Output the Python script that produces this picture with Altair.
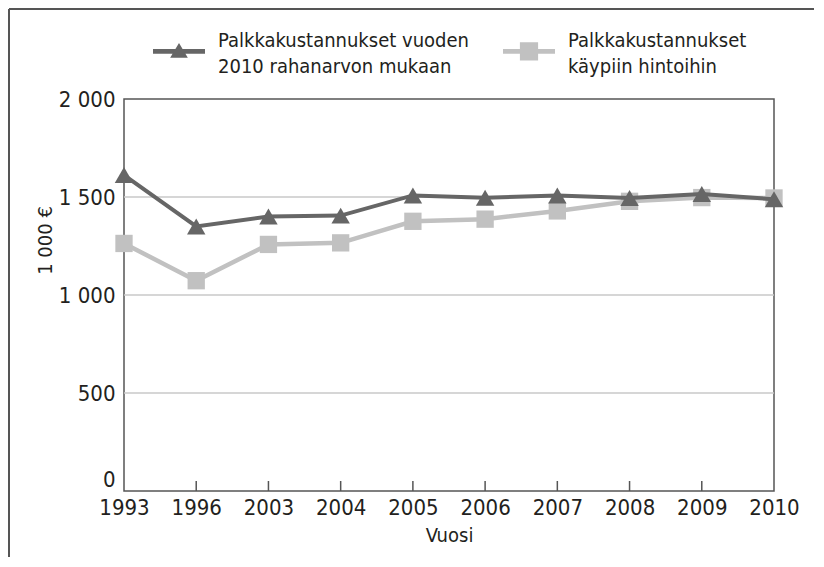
import altair as alt
import pandas as pd

# ---- data ----
years = ["1993", "1996", "2003", "2004", "2005", "2006", "2007", "2008", "2009", "2010"]
real_2010 = [1612, 1350, 1400, 1405, 1508, 1496, 1508, 1495, 1515, 1488]
nominal = [1263, 1073, 1258, 1266, 1376, 1387, 1429, 1478, 1497, 1495]
series_real = "Palkkakustannukset vuoden|2010 rahanarvon mukaan"
series_nominal = "Palkkakustannukset|käypiin hintoihin"
y_ticks = [0, 500, 1000, 1500, 2000]
grid_values = [500, 1000, 1500]

DARK = "#666666"
LIGHT = "#c1c1c1"
TEXT = "#231f20"
FRAME = "#555555"
FONT = "Liberation Sans Narrow, DejaVu Sans Condensed, sans-serif"

W, H = 650, 392
PAD = {"left": 116, "top": 91, "right": 40, "bottom": 66}

df_real = pd.DataFrame({"year": years, "value": real_2010, "series": series_real})
df_nom = pd.DataFrame({"year": years, "value": nominal, "series": series_nominal})
df_grid = pd.DataFrame({"v": grid_values})
df_ticks = pd.DataFrame({"year": years[1:-1]})

xscale = alt.Scale(type="point", padding=0, domain=years)
yscale = alt.Scale(domain=[0, 2000], nice=False, zero=True)

xaxis = alt.Axis(title="Vuosi", labelAngle=0, ticks=False, domain=False, grid=False,
                 labelPadding=6, labelFontSize=22, titleFontSize=20,
                 titleFontWeight="normal", titlePadding=7,
                 labelColor=TEXT, titleColor=TEXT, labelFont=FONT, titleFont=FONT)
yaxis = alt.Axis(title="1 000 €", values=y_ticks, grid=False, ticks=False, domain=False,
                 labelPadding=9, labelFontSize=22, titleFontSize=20,
                 titleFontWeight="normal", labelColor=TEXT, titleColor=TEXT,
                 labelFont=FONT, titleFont=FONT,
                 labelExpr="replace(format(datum.value, ','), ',', ' ')",
                 labelBaseline={"condition": {"test": "datum.value == 0", "value": "bottom"},
                                "value": "middle"},
                 titleX=-79, titleY=141, titleAngle=-90, titleBaseline="middle",
                 titleAlign="center")

X = alt.X("year:O", scale=xscale, axis=xaxis, sort=years)
Y = alt.Y("value:Q", scale=yscale, axis=yaxis)

grid = alt.Chart(df_grid).mark_rule(color="#c8c8c8", strokeWidth=1.5).encode(
    y=alt.Y("v:Q", scale=yscale, axis=yaxis)
)

sym_tri = ("M-1,0.31 L1,0.31 L1,0.49 L-1,0.49 Z "
           "M0,0.08 L0.34,0.64 L-0.34,0.64 Z")
sym_sq = ("M-1,0.31 L1,0.31 L1,0.49 L-1,0.49 Z "
          "M-0.35,0.05 L0.35,0.05 L0.35,0.75 L-0.35,0.75 Z")

def legend(sym, lx):
    return alt.Legend(title=None, orient="none", legendX=lx, legendY=-84,
                      symbolType=sym, symbolSize=2704, symbolStrokeWidth=0,
                      symbolOpacity=1, labelFont=FONT, labelFontSize=20,
                      labelColor=TEXT, labelOffset=13, labelLimit=400,
                      labelExpr="split(datum.label, '|')", labelBaseline="middle")

nom_line = alt.Chart(df_nom).mark_line(color=LIGHT, strokeWidth=4.5).encode(x=X, y=Y)
nom_pts = alt.Chart(df_nom).mark_point(filled=True, shape="square", size=300, opacity=1).encode(
    x=X, y=Y,
    color=alt.Color("series:N", scale=alt.Scale(domain=[series_nominal], range=[LIGHT]),
                    legend=legend(sym_sq, 379)),
)
real_line = alt.Chart(df_real).mark_line(color=DARK, strokeWidth=4).encode(x=X, y=Y)
real_pts = alt.Chart(df_real).mark_point(filled=True, shape="triangle-up", size=340, opacity=1).encode(
    x=X, y=Y,
    color=alt.Color("series:N", scale=alt.Scale(domain=[series_real], range=[DARK]),
                    legend=legend(sym_tri, 29)),
)

ticks = alt.Chart(df_ticks).mark_rule(color=FRAME, strokeWidth=1.5).encode(
    x=alt.X("year:O", scale=xscale, axis=xaxis, sort=years),
    y=alt.value(H), y2=alt.value(H - 10),
)

frame_left = alt.Chart(df_grid).mark_rule(color=FRAME, strokeWidth=2).encode(
    x=alt.value(-115), y=alt.value(-90), y2=alt.value(H + PAD["bottom"]))
frame_top = alt.Chart(df_grid).mark_rule(color=FRAME, strokeWidth=2).encode(
    y=alt.value(-90), x=alt.value(-115), x2=alt.value(W + PAD["right"]))

chart = alt.layer(
    grid, nom_line, nom_pts, real_line, real_pts, ticks, frame_left, frame_top
).resolve_scale(color="independent").properties(
    width=W, height=H, padding=PAD, autosize=alt.AutoSizeParams(type="none"),
    background="white",
).configure(
    view={"stroke": FRAME, "strokeWidth": 1.5},
    style={"guide-label": {"lineHeight": 26}},
)

chart.save("out.html", embed_options={"renderer": "svg", "actions": False})
